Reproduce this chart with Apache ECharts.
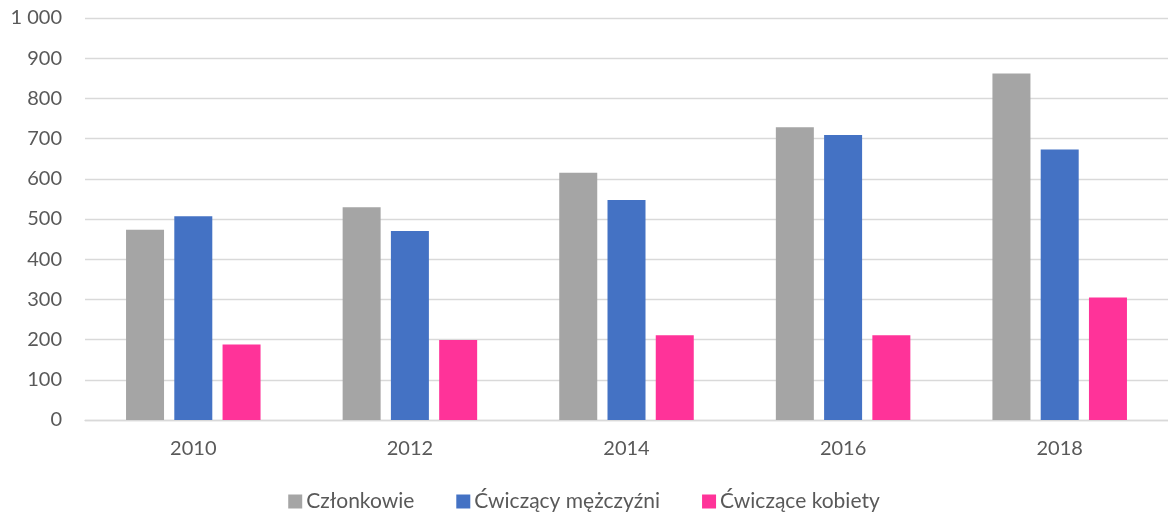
<!DOCTYPE html>
<html>
<head>
<meta charset="utf-8">
<script src="https://cdn.jsdelivr.net/npm/echarts@6/dist/echarts.min.js"></script>
<style>
    html, body { margin: 0; padding: 0; background: #fff; }
    #chart { width: 1168px; height: 518px; }
</style>
</head>
<body>
<div id="chart"></div>
<script>
    const years = ['2010', '2012', '2014', '2016', '2018'];
    const czlonkowie = [473, 529, 615, 728, 862];
    const mezczyzni = [507, 470, 547, 709, 673];
    const kobiety = [188, 199, 211, 211, 305];

    const font = 'Lato, "Open Sans", sans-serif';
    const textColor = '#595959';

    // etykiety osi Y ze spacją jako separatorem tysięcy
    function fmt(v) {
        return String(v).replace(/\B(?=(\d{3})+(?!\d))/g, ' ');
    }

    const myChart = echarts.init(document.getElementById('chart'));
    myChart.setOption({
        animation: false,
        color: ['#A5A5A5', '#4472C4', '#FF3399'],
        grid: {
            left: 85,
            right: -4,
            top: 18,
            bottom: 98
        },
        legend: {
            bottom: 1,
            left: 'center',
            itemWidth: 14,
            itemHeight: 14,
            itemGap: 42,
            icon: 'rect',
            textStyle: { color: textColor, fontSize: 21, fontFamily: font, padding: [0, 0, 0, -1] }
        },
        xAxis: {
            type: 'category',
            data: years,
            axisTick: { show: false },
            axisLine: { lineStyle: { color: '#D9D9D9', width: 1.3 } },
            axisLabel: { color: textColor, fontSize: 20, fontFamily: font, margin: 19 }
        },
        yAxis: {
            type: 'value',
            min: 0,
            max: 1000,
            interval: 100,
            axisLine: { show: false },
            axisTick: { show: false },
            splitLine: { lineStyle: { color: '#D9D9D9', width: 1.3 } },
            axisLabel: { color: textColor, fontSize: 20, fontFamily: font, margin: 23, formatter: fmt }
        },
        series: [
            { name: 'Członkowie', type: 'bar', data: czlonkowie, barWidth: 38, barGap: '27%' },
            { name: 'Ćwiczący mężczyźni', type: 'bar', data: mezczyzni, barWidth: 38, barGap: '27%' },
            { name: 'Ćwiczące kobiety', type: 'bar', data: kobiety, barWidth: 38, barGap: '27%' }
        ]
    });
</script>
</body>
</html>
